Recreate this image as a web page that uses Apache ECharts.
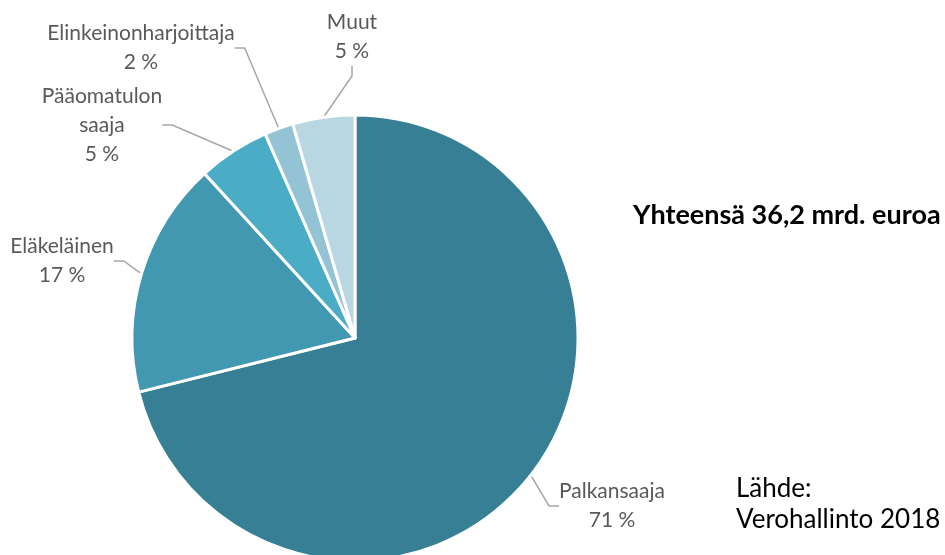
<!DOCTYPE html>
<html>
<head>
<meta charset="utf-8">
<script src="https://cdn.jsdelivr.net/npm/echarts@6/dist/echarts.min.js"></script>
<style>
  html, body { margin: 0; padding: 0; background: #fff; }
  #chart { width: 945px; height: 555px; }
</style>
</head>
<body>
<div id="chart"></div>
<script>
// verotulot maksajaryhmittäin, % (luettu kuvasta)
var names = ['Palkansaaja', 'Eläkeläinen', 'Pääomatulon\nsaaja', 'Elinkeinonharjoittaja', 'Muut']
var values = [71.1, 17.1, 5.2, 2.1, 4.5]
var colors = ['#367f94', '#4298b0', '#4bacc6', '#93c3d4', '#b9d7e2']
// label block centres (x, y)
var labelPos = [[612, 506], [62, 261], [102, 125], [141, 48], [352, 37]]

var chart = echarts.init(document.getElementById('chart'))

var seriesData = names.map(function (n, i) {
  return { name: n, value: values[i], itemStyle: { color: colors[i] } }
})

var options = {
  animation: false,
  series: [
    {
      type: 'pie',
      center: [355, 338],
      radius: [0, 223],
      startAngle: 90,
      clockwise: true,
      percentPrecision: 0,
      itemStyle: {
        borderColor: '#ffffff',
        borderWidth: 3
      },
      label: {
        show: true,
        formatter: '{b}\n{d} %',
        color: '#595959',
        fontFamily: 'Lato',
        fontSize: 21,
        lineHeight: 29,
        align: 'center',
        overflow: 'none',
        edgeDistance: 0
      },
      labelLine: {
        show: true,
        length: 20,
        length2: 10,
        lineStyle: {
          color: '#a6a6a6',
          width: 1.5
        }
      },
      labelLayout: function (params) {
        var p = labelPos[params.dataIndex]
        return {
          x: p[0],
          y: p[1],
          align: 'center',
          verticalAlign: 'middle'
        }
      },
      data: seriesData
    }
  ],
  graphic: [
    {
      type: 'text',
      left: 633,
      top: 202,
      style: {
        text: 'Yhteensä 36,2 mrd. euroa',
        fill: '#000',
        font: 'bold 27px Lato'
      }
    },
    {
      type: 'text',
      left: 736,
      top: 473,
      style: {
        text: 'Lähde:\nVerohallinto 2018',
        fill: '#000',
        font: '26px Lato',
        lineHeight: 31
      }
    }
  ]
}

chart.setOption(options)
</script>
</body>
</html>
